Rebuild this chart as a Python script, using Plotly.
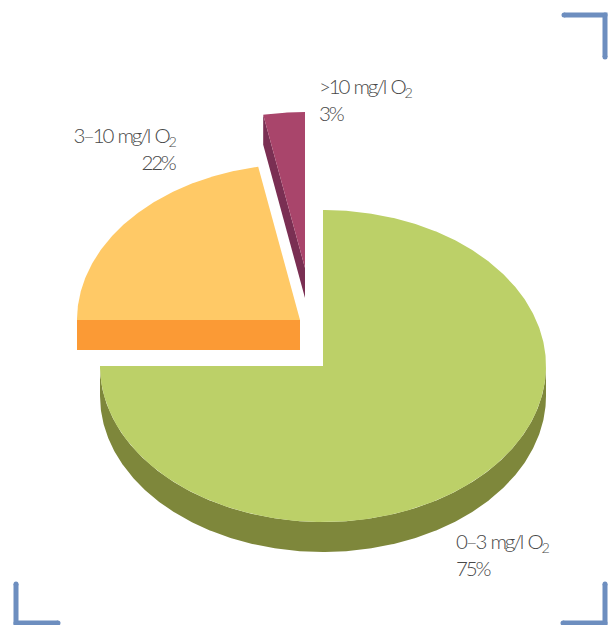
import math
import plotly.graph_objects as go

categories = ["0–3 mg/l O<sub>2</sub>", "3–10 mg/l O<sub>2</sub>", ">10 mg/l O<sub>2</sub>"]
shares = [75, 22, 3]

# Styling and layout of the drawing (pixel-based axes)
W, H = 611, 625
RX, RY, DEPTH = 223, 156, 30
centers = [(323, 366), (300, 320), (305, 268)]
top_colors = ["#BCD068", "#FFC966", "#A9456B"]
side_colors = ["#7E873B", "#FB9A35", "#7A2F53"]
label_pos = [(454, 554.5, "left"), (177, 148.5, "right"), (317, 99, "left")]
BRACKET = "#6D8EBF"
FONT = "Lato, sans-serif"


def pt(c, deg, dy=0):
    a = math.radians(deg)
    return c[0] + RX * math.sin(a), c[1] - RY * math.cos(a) + dy


def arc(c, a, b, dy=0):
    n = max(2, int(abs(b - a) * 2))
    return [pt(c, a + (b - a) * i / n, dy) for i in range(n + 1)]


def poly(points, color, name):
    return go.Scatter(
        x=[p[0] for p in points], y=[p[1] for p in points],
        mode="lines", fill="toself", fillcolor=color,
        line=dict(width=0, color=color), name=name, showlegend=False,
        hoverinfo="name",
    )


fig = go.Figure()
start = 0.0
total = sum(shares)
for i, v in enumerate(shares):
    end = start + 360.0 * v / total
    c = centers[i]
    name = categories[i]
    lo, hi = max(start, 90), min(end, 270)
    if hi > lo:
        fig.add_trace(poly(arc(c, lo, hi) + arc(c, hi, lo, DEPTH), side_colors[i], name))
    if start >= 180:
        e = pt(c, start)
        fig.add_trace(poly([c, e, (e[0], e[1] + DEPTH), (c[0], c[1] + DEPTH)], side_colors[i], name))
    fig.add_trace(poly([c] + arc(c, start, end) + [c], top_colors[i], name))
    start = end

for (x, y, al), cat, v in zip(label_pos, categories, shares):
    fig.add_annotation(
        x=x, y=y, xref="x", yref="y", xanchor=al, yanchor="middle", align=al,
        text=f"{cat}<br>{v}%", showarrow=False,
        font=dict(family=FONT, size=20.5, color="#484848", weight=300),
    )

brackets = [
    [(564, 15), (605, 15), (605, 57)],
    [(16, 584), (16, 623), (58, 623)],
    [(605, 584), (605, 623), (563, 623)],
]
for b in brackets:
    fig.add_trace(go.Scatter(
        x=[p[0] for p in b], y=[p[1] for p in b], mode="lines+markers",
        line=dict(color=BRACKET, width=5), marker=dict(color=BRACKET, size=5),
        hoverinfo="skip", showlegend=False, cliponaxis=False,
    ))

fig.update_layout(
    width=W, height=H, margin=dict(l=0, r=0, t=0, b=0),
    paper_bgcolor="white", plot_bgcolor="white", showlegend=False,
    xaxis=dict(range=[0, W], visible=False, fixedrange=True),
    yaxis=dict(range=[H, 0], visible=False, fixedrange=True),
)
fig.write_html(
    "out.html",
    config={"displayModeBar": False},
    post_script=(
        "document.body.style.margin='0';document.body.style.overflow='hidden';"
        "document.querySelectorAll('.annotation-text').forEach(function(t){"
        "t.style.letterSpacing='-2.2px';t.style.wordSpacing='2px';});"
    ),
)
